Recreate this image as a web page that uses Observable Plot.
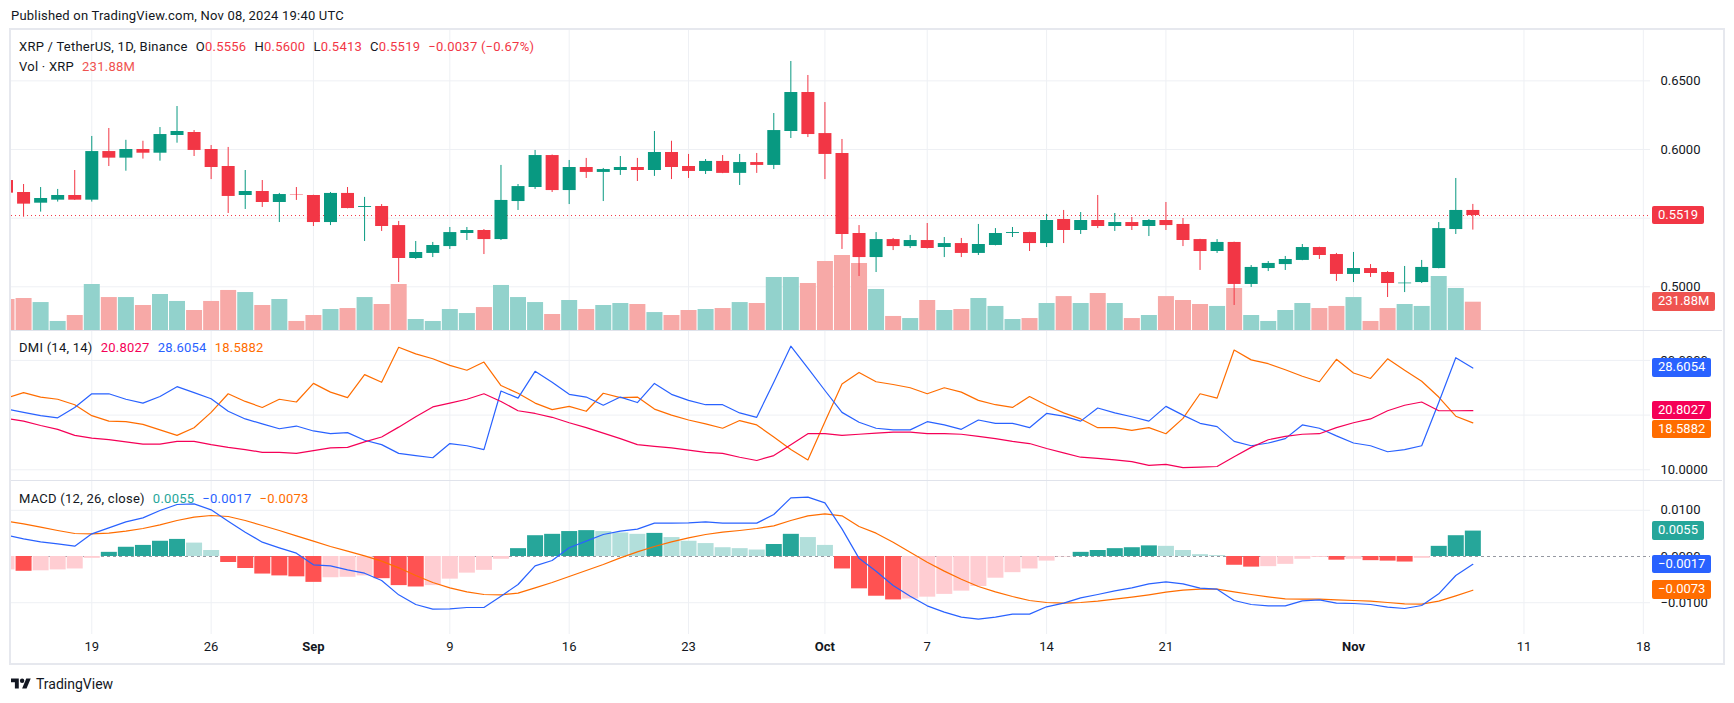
<!DOCTYPE html>
<html><head><meta charset="utf-8">
<script src="https://cdn.jsdelivr.net/npm/d3@7"></script>
<script src="https://cdn.jsdelivr.net/npm/@observablehq/plot@0.6"></script>
<style>
body{margin:0;background:#fff;font-family:Roboto,sans-serif;color:#131722;}
#root{position:relative;width:1734px;height:703px;overflow:hidden;background:#fff;}
.lg{position:absolute;font-size:13px;letter-spacing:0.25px;white-space:pre;line-height:16px;color:#131722;}
.lg span{margin-left:8px;}
.lg span.n{margin-left:0;}
.lbl{position:absolute;color:#fff;font-size:13px;height:18.5px;line-height:18.5px;padding:0 6px;border-radius:2px;white-space:pre;}
</style></head><body><div id="root"></div>
<script>
// ---------- DATA ----------
const startDate = "2024-08-14", endDate = "2024-11-08";
const opens = [0.5774,0.5687,0.5609,0.5631,0.5665,0.5631,0.5985,0.5937,0.6000,0.5973,
0.6102,0.6124,0.6000,0.5876,0.5665,0.5694,0.5614,0.5670,0.5665,0.5468,
0.5680,0.5578,0.5585,0.5446,0.5206,0.5243,0.5293,0.5388,0.5410,0.5344,
0.5621,0.5723,0.5956,0.5701,0.5869,0.5833,0.5847,0.5869,0.5847,0.5978,
0.5876,0.5840,0.5913,0.5826,0.5905,0.5884,0.6131,0.6415,0.6116,0.5971,
0.5388,0.5213,0.5344,0.5293,0.5337,0.5286,0.5315,0.5243,0.5301,0.5388,
0.5395,0.5315,0.5490,0.5410,0.5483,0.5439,0.5468,0.5439,0.5483,0.5454,
0.5344,0.5257,0.5323,0.5017,0.5133,0.5162,0.5192,0.5286,0.5235,0.5090,
0.5133,0.5104,0.5022,0.5031,0.5133,0.5417,0.5556];
const highs = [0.5790,0.5745,0.5723,0.5709,0.5847,0.6095,0.6153,0.6067,0.6060,0.6160,
0.6313,0.6138,0.6029,0.6015,0.5847,0.5774,0.5680,0.5723,0.5667,0.5687,
0.5723,0.5651,0.5599,0.5476,0.5330,0.5323,0.5432,0.5432,0.5417,0.5884,
0.5745,0.5993,0.5960,0.5920,0.5935,0.5862,0.5949,0.5935,0.6131,0.6060,
0.5964,0.5927,0.5956,0.5964,0.5971,0.6262,0.6641,0.6539,0.6342,0.6073,
0.5446,0.5395,0.5352,0.5374,0.5461,0.5359,0.5352,0.5454,0.5424,0.5432,
0.5397,0.5527,0.5556,0.5541,0.5665,0.5534,0.5505,0.5490,0.5614,0.5497,
0.5346,0.5344,0.5325,0.5155,0.5184,0.5221,0.5308,0.5288,0.5243,0.5250,
0.5162,0.5111,0.5148,0.5192,0.5468,0.5789,0.5600];
const lows = [0.5660,0.5507,0.5544,0.5617,0.5629,0.5617,0.5876,0.5842,0.5930,0.5915,
0.6046,0.5949,0.5781,0.5534,0.5563,0.5578,0.5468,0.5629,0.5439,0.5446,
0.5568,0.5330,0.5403,0.5031,0.5199,0.5213,0.5272,0.5337,0.5235,0.5337,
0.5556,0.5709,0.5687,0.5599,0.5789,0.5621,0.5811,0.5767,0.5804,0.5781,
0.5789,0.5818,0.5824,0.5738,0.5826,0.5854,0.6080,0.6087,0.5781,0.5272,
0.5075,0.5104,0.5264,0.5279,0.5275,0.5213,0.5213,0.5228,0.5298,0.5359,
0.5257,0.5286,0.5315,0.5381,0.5424,0.5403,0.5410,0.5366,0.5410,0.5293,
0.5119,0.5243,0.4864,0.4995,0.5111,0.5119,0.5190,0.5199,0.5039,0.5031,
0.5068,0.4922,0.4958,0.5024,0.5131,0.5381,0.5413];
const closes = [0.5682,0.5602,0.5643,0.5665,0.5631,0.5985,0.5937,0.6000,0.5973,0.6109,
0.6131,0.5993,0.5869,0.5658,0.5694,0.5614,0.5672,0.5667,0.5468,0.5680,
0.5570,0.5585,0.5439,0.5206,0.5250,0.5301,0.5395,0.5410,0.5344,0.5629,
0.5730,0.5956,0.5701,0.5869,0.5833,0.5854,0.5869,0.5847,0.5978,0.5869,
0.5840,0.5913,0.5826,0.5905,0.5884,0.6138,0.6415,0.6109,0.5964,0.5381,
0.5213,0.5344,0.5293,0.5337,0.5279,0.5315,0.5243,0.5308,0.5388,0.5395,
0.5315,0.5483,0.5410,0.5483,0.5439,0.5468,0.5439,0.5483,0.5446,0.5337,
0.5257,0.5323,0.5017,0.5141,0.5170,0.5199,0.5286,0.5228,0.5090,0.5133,
0.5097,0.5024,0.5027,0.5141,0.5424,0.5556,0.5519];
const volumesM = [254,262,229,74,123,377,270,270,205,295,
238,164,238,328,311,205,254,74,123,172,
180,270,213,377,90,74,172,139,188,369,
270,229,131,246,172,205,221,213,147,123,
164,172,180,229,221,434,434,385,565,614,
549,336,115,98,246,164,172,262,197,90,
98,221,278,221,303,221,98,123,278,246,
213,197,344,123,74,164,221,180,197,270,
74,180,213,197,442,344,231.88];
const adx = [19.4,18.9,18.1,17.4,16.3,15.8,15.5,15.1,14.7,14.7,
15.2,15.2,14.6,14.1,13.7,13.2,13.2,13.0,13.5,14.0,
14.1,15.1,16.0,17.8,19.7,21.5,22.2,22.9,23.9,22.5,
20.8,20.3,19.6,18.6,17.7,16.7,15.7,14.6,14.3,14.0,
13.6,13.2,13.0,12.3,11.7,12.6,14.6,16.6,16.6,16.3,
16.5,16.7,16.9,16.9,16.6,16.6,16.5,16.1,15.7,15.2,
14.8,13.9,13.1,12.3,12.1,11.8,11.5,10.8,11.0,10.4,
10.5,10.6,12.4,14.1,15.5,16.1,16.5,16.6,17.7,18.6,
19.3,20.8,21.8,22.4,20.8,20.8,20.8027];
const plusDI = [21.1,20.5,19.9,19.5,21.4,23.9,23.9,22.9,22.2,23.4,
25.2,24.1,23.0,20.7,19.3,18.4,17.5,18.0,17.1,16.6,
16.8,15.4,14.6,13.0,12.6,12.2,14.8,14.4,13.7,24.4,
23.1,28.0,26.0,23.8,23.3,21.8,23.3,22.3,25.8,23.8,
22.7,21.9,21.9,20.4,19.6,26.0,32.6,28.6,24.5,20.5,
18.7,17.6,17.3,17.3,18.8,18.2,17.4,19.1,18.5,18.5,
17.7,20.3,19.8,18.9,21.3,20.4,19.7,18.9,21.6,20.0,
18.5,17.9,15.2,14.4,14.9,15.7,18.2,17.6,16.2,14.9,
14.4,13.3,13.7,14.4,22.3,30.5,28.6054];
const minusDI = [23.1,24.1,23.3,22.9,21.9,19.9,18.9,18.8,18.3,17.3,
16.3,17.7,20.5,23.9,22.5,21.4,22.9,22.4,25.8,24.2,
23.2,27.4,26.0,32.4,31.2,30.3,29.1,28.2,29.7,25.4,
24.0,22.2,21.0,21.6,20.7,24.0,23.2,23.3,21.1,20.0,
19.1,18.4,17.6,19.0,18.2,16.0,13.7,11.8,18.8,25.7,
27.8,26.1,25.6,25.0,23.9,25.0,24.2,22.7,21.9,21.4,
23.4,21.8,20.4,19.3,17.7,17.7,17.2,17.7,16.6,19.4,
23.9,23.1,31.9,30.1,29.4,28.3,27.1,26.1,30.2,27.7,
26.7,30.3,28.2,26.2,23.3,19.8,18.5882];
const macdLine = [0.00462,0.00382,0.00317,0.00274,0.00224,0.00491,0.00620,0.00750,0.00837,0.00996,
0.01126,0.01140,0.01010,0.00765,0.00527,0.00310,0.00188,0.00072,-0.00180,-0.00202,
-0.00289,-0.00361,-0.00519,-0.00830,-0.01039,-0.01140,-0.01133,-0.01104,-0.01104,-0.00859,
-0.00606,-0.00202,-0.00087,0.00188,0.00332,0.00476,0.00548,0.00592,0.00722,0.00722,
0.00729,0.00750,0.00722,0.00722,0.00722,0.00909,0.01270,0.01284,0.01162,0.00599,
-0.00040,-0.00320,-0.00628,-0.00859,-0.01068,-0.01205,-0.01313,-0.01356,-0.01313,-0.01248,
-0.01248,-0.01089,-0.01010,-0.00895,-0.00823,-0.00743,-0.00678,-0.00592,-0.00548,-0.00592,
-0.00685,-0.00707,-0.00952,-0.01039,-0.01068,-0.01068,-0.00960,-0.00938,-0.01010,-0.01017,
-0.01039,-0.01097,-0.01126,-0.01061,-0.00808,-0.00411,-0.0017];
const signalLine = [0.00765,0.00707,0.00635,0.00563,0.00498,0.00491,0.00505,0.00548,0.00606,0.00685,
0.00779,0.00851,0.00887,0.00866,0.00779,0.00671,0.00563,0.00447,0.00332,0.00216,
0.00115,0.00014,-0.00101,-0.00245,-0.00411,-0.00563,-0.00678,-0.00765,-0.00823,-0.00830,
-0.00794,-0.00678,-0.00563,-0.00433,-0.00303,-0.00173,-0.00029,0.00101,0.00216,0.00317,
0.00404,0.00476,0.00527,0.00563,0.00606,0.00664,0.00779,0.00880,0.00924,0.00880,
0.00650,0.00505,0.00310,0.00094,-0.00123,-0.00317,-0.00491,-0.00649,-0.00765,-0.00866,
-0.00952,-0.00996,-0.01010,-0.00996,-0.00967,-0.00924,-0.00880,-0.00830,-0.00772,-0.00729,
-0.00707,-0.00707,-0.00765,-0.00823,-0.00873,-0.00916,-0.00924,-0.00924,-0.00938,-0.00952,
-0.00967,-0.00996,-0.01025,-0.01032,-0.00967,-0.00851,-0.0073];
const histogram = [-0.0029,-0.0032,-0.0031,-0.0029,-0.0027,-0.0004,0.0009,0.0020,0.0024,0.0033,
0.0037,0.0029,0.0013,-0.0013,-0.0026,-0.0038,-0.0042,-0.0044,-0.0056,-0.0046,
-0.0045,-0.0042,-0.0048,-0.0063,-0.0066,-0.0063,-0.0049,-0.0036,-0.0030,-0.0006,
0.0017,0.0045,0.0048,0.0054,0.0056,0.0054,0.0051,0.0048,0.0050,0.0041,
0.0033,0.0028,0.0019,0.0017,0.0014,0.0026,0.0048,0.0041,0.0024,-0.0027,
-0.0070,-0.0086,-0.0094,-0.0092,-0.0088,-0.0082,-0.0075,-0.0065,-0.0047,-0.0035,
-0.0027,-0.0010,-0.0001,0.0009,0.0013,0.0017,0.0019,0.0023,0.0022,0.0013,
0.0004,0.0002,-0.0019,-0.0023,-0.0022,-0.0017,-0.0006,-0.0002,-0.0008,-0.0006,
-0.0009,-0.0010,-0.0012,-0.0004,0.0022,0.0045,0.0055];
const priceTicks = [0.50, 0.55, 0.60, 0.65];
const dmiTicks = [10, 20, 30];
const macdTicks = [0.01, 0, -0.01];
const timeTicks = ["2024-08-19","2024-08-26","2024-09-01","2024-09-09","2024-09-16","2024-09-23","2024-10-01","2024-10-07","2024-10-14","2024-10-21","2024-11-01","2024-11-11","2024-11-18"];
const timeTickLabels = ["19","26","Sep","9","16","23","Oct","7","14","21","Nov","11","18"];
const monthLabels = ["Sep","Oct","Nov"];

// ---------- BUILD ----------
const dates = d3.utcDay.range(new Date(startDate), d3.utcDay.offset(new Date(endDate), 1));
const bars = dates.map((date, i) => ({
  date, open: opens[i], high: highs[i], low: lows[i], close: closes[i], volume: volumesM[i],
  adx: adx[i], pdi: plusDI[i], mdi: minusDI[i], macd: macdLine[i], signal: signalLine[i], hist: histogram[i], i
}));
const ticks = timeTicks.map((t, i) => ({date: new Date(t), label: timeTickLabels[i]}));

const UP = "#089981", DOWN = "#f23645";
const gridColor = "#eef0f4";
const candleColor = d => d.close >= d.open ? UP : DOWN;
const volColor = d => d.close >= d.open ? "#92d2cc" : "#f7a9a7";
const histColor = d => {
  const prev = d.i > 0 ? histogram[d.i - 1] : -Infinity;
  if (d.hist >= 0) return d.hist > prev ? "#26a69a" : "#b2dfdb";
  return d.hist > prev ? "#ffcdd2" : "#ff5252";
};

const root = document.getElementById("root");
const W = 1713, ML = 1, MR = 73, LEFT = 10;
const xDomain = [new Date(Date.UTC(2024, 7, 14, 7, 0)), new Date(Date.UTC(2024, 10, 18, 10, 5))];
const pStyle = {background: "transparent", fontFamily: "Roboto, sans-serif", fontSize: "13px", color: "#131722", overflow: "visible"};

function mk(opts) {
  return Plot.plot(Object.assign({
    width: W, marginLeft: ML, marginRight: MR, marginTop: 0, marginBottom: 0,
    x: {type: "utc", domain: xDomain, axis: null},
    color: {type: "identity"},
    style: pStyle
  }, opts));
}
function place(el, left, top) {
  el.style.position = "absolute"; el.style.left = left + "px"; el.style.top = top + "px";
  el.style.maxWidth = "none";
  root.appendChild(el); return el;
}
function axisText(values, fmt) {
  return Plot.text(values, {y: d => d, frameAnchor: "right", textAnchor: "start", dx: 10, text: fmt, fill: "#131722", fontSize: 13, ariaDescription: "yticks"});
}
const fmt4 = d => (d < 0 ? "\u2212" : "") + Math.abs(d).toFixed(4);

// Main pane (top 29, height 301)
const MAIN_TOP = 29, MAIN_H = 301;
const priceY = {domain: [0.46817, 0.68740], axis: null};
const mainGrid = mk({height: MAIN_H, y: priceY, marks: [
  Plot.ruleX(ticks, {x: "date", stroke: gridColor}),
  Plot.ruleY(priceTicks, {stroke: gridColor}),
  axisText(priceTicks, fmt4)
]});
place(mainGrid, LEFT, MAIN_TOP);

const volPlot = mk({height: MAIN_H, y: {domain: [0, 2466], axis: null}, marks: [
  Plot.ruleX(bars, {x: "date", y1: 0, y2: "volume", stroke: volColor, strokeWidth: 16, clip: true})
]});
place(volPlot, LEFT, MAIN_TOP);

const lastClose = closes[closes.length - 1];
const candlePlot = mk({height: MAIN_H, y: priceY, marks: [
  Plot.ruleY([lastClose], {stroke: DOWN, strokeDasharray: "1,3", strokeWidth: 1}),
  Plot.ruleX(bars, {x: "date", y1: "low", y2: "high", stroke: candleColor, strokeWidth: 1, clip: true}),
  Plot.ruleX(bars, {x: "date", y1: "open", y2: "close", stroke: candleColor, strokeWidth: 13, clip: true})
]});
place(candlePlot, LEFT, MAIN_TOP);

// DMI pane (top 330, height 151)
const DMI_TOP = 330, DMI_H = 151;
const dmiPlot = mk({height: DMI_H, y: {domain: [7.86, 35.47], axis: null}, marks: [
  Plot.ruleX(ticks, {x: "date", stroke: gridColor}),
  Plot.ruleY(dmiTicks, {stroke: gridColor}),
  axisText(dmiTicks, d => d.toFixed(4)),
  Plot.line(bars, {x: "date", y: "mdi", stroke: "#ff6d00", strokeWidth: 1.2, clip: true}),
  Plot.line(bars, {x: "date", y: "pdi", stroke: "#2962ff", strokeWidth: 1.2, clip: true}),
  Plot.line(bars, {x: "date", y: "adx", stroke: "#f50057", strokeWidth: 1.2, clip: true})
]});
place(dmiPlot, LEFT, DMI_TOP);

// MACD pane (top 481, frame height 153, +29 time axis)
const MACD_TOP = 481, MACD_H = 182;
const macdPlot = mk({height: MACD_H, marginBottom: 29, y: {domain: [-0.016883, 0.016234], axis: null}, marks: [
  Plot.ruleX(ticks, {x: "date", stroke: gridColor}),
  Plot.ruleY(macdTicks.filter(d => d !== 0), {stroke: gridColor}),
  Plot.ruleY([0], {stroke: "#9598a1", strokeDasharray: "3,3"}),
  axisText(macdTicks, fmt4),
  Plot.ruleX(bars, {x: "date", y1: 0, y2: "hist", stroke: histColor, strokeWidth: 16, clip: true}),
  Plot.line(bars, {x: "date", y: "signal", stroke: "#ff6d00", strokeWidth: 1.2, clip: true}),
  Plot.line(bars, {x: "date", y: "macd", stroke: "#2962ff", strokeWidth: 1.2, clip: true}),
  Plot.text(ticks.filter(t => !monthLabels.includes(t.label)), {x: "date", text: "label", frameAnchor: "bottom", dy: 16, fill: "#131722", fontSize: 13}),
  Plot.text(ticks.filter(t => monthLabels.includes(t.label)), {x: "date", text: "label", frameAnchor: "bottom", dy: 16, fill: "#131722", fontSize: 13, fontWeight: "bold"})
]});
place(macdPlot, LEFT, MACD_TOP);

// Frame & separators
function box(css) { const d = document.createElement("div"); d.style.cssText = "position:absolute;" + css; root.appendChild(d); return d; }
box("left:9px;top:28px;width:1712px;height:633px;border:2px solid #e6e8ee;pointer-events:none;");
box("left:11px;top:330px;width:1711px;height:1px;background:#e0e3eb;");
box("left:11px;top:480px;width:1711px;height:1px;background:#e0e3eb;");

// Axis value labels
function yPos(plot, top, v) {
  const s = plot.scale("y");
  return top + (s.apply ? s.apply(v) : d3.scaleLinear(s.domain, s.range)(v));
}
const placedLabels = [];
function drawLabels(list) {
  const h = 18.5;
  list.sort((a, b) => a.y - b.y);
  for (let i = 1; i < list.length; i++) if (list[i].y - list[i - 1].y < h + 0.5) list[i].y = list[i - 1].y + h + 0.5;
  list.forEach(l => {
    const d = document.createElement("div");
    d.className = "lbl"; d.textContent = l.text; d.style.background = l.bg;
    d.style.left = "1652px"; d.style.top = (l.y - h / 2) + "px";
    root.appendChild(d);
    placedLabels.push(l.y);
  });
}
drawLabels([{y: yPos(candlePlot, MAIN_TOP, lastClose), text: lastClose.toFixed(4), bg: "#f23645"}]);
drawLabels([{y: yPos(volPlot, MAIN_TOP, volumesM[volumesM.length - 1]), text: "231.88M", bg: "#ef5350"}]);
drawLabels([
  {y: yPos(dmiPlot, DMI_TOP, plusDI[plusDI.length - 1]), text: "28.6054", bg: "#2962ff"},
  {y: yPos(dmiPlot, DMI_TOP, adx[adx.length - 1]), text: "20.8027", bg: "#f50057"},
  {y: yPos(dmiPlot, DMI_TOP, minusDI[minusDI.length - 1]), text: "18.5882", bg: "#ff6d00"}
]);
drawLabels([
  {y: yPos(macdPlot, MACD_TOP, histogram[histogram.length - 1]), text: "0.0055", bg: "#26a69a"},
  {y: yPos(macdPlot, MACD_TOP, macdLine[macdLine.length - 1]), text: "\u22120.0017", bg: "#2962ff"},
  {y: yPos(macdPlot, MACD_TOP, signalLine[signalLine.length - 1]), text: "\u22120.0073", bg: "#ff6d00"}
]);
// hide tick labels that a value label fully covers (as the price scale does)
document.querySelectorAll('g[aria-description="yticks"] text').forEach(t => {
  const r = t.getBoundingClientRect();
  const cy = (r.top + r.bottom) / 2;
  if (placedLabels.some(y => Math.abs(y - cy) < 6)) t.style.display = "none";
});

// Texts
function lg(html, left, top, size) {
  const d = document.createElement("div"); d.className = "lg"; d.innerHTML = html;
  d.style.left = left + "px"; d.style.top = top + "px"; if (size) d.style.fontSize = size + "px";
  root.appendChild(d); return d;
}
const R = "#f23645";
const pub = lg("Published on TradingView.com, Nov 08, 2024 19:40 UTC", 11, 8, 13);
pub.style.letterSpacing = "0.2px";
lg(`<span class="n">XRP / TetherUS, 1D, Binance</span><span>O<b style="font-weight:normal;color:${R}">0.5556</b></span><span>H<b style="font-weight:normal;color:${R}">0.5600</b></span><span>L<b style="font-weight:normal;color:${R}">0.5413</b></span><span>C<b style="font-weight:normal;color:${R}">0.5519</b></span><span style="color:${R}">\u22120.0037 (\u22120.67%)</span>`, 19, 39);
lg(`<span class="n">Vol \u00b7 XRP</span><span style="color:#ef5350">231.88M</span>`, 19, 59);
lg(`<span class="n">DMI (14, 14)</span><span style="color:#f50057">20.8027</span><span style="color:#2962ff">28.6054</span><span style="color:#ff6d00">18.5882</span>`, 19, 340);
lg(`<span class="n">MACD (12, 26, close)</span><span style="color:#26a69a">0.0055</span><span style="color:#2962ff">\u22120.0017</span><span style="color:#ff6d00">\u22120.0073</span>`, 19, 491);

// Footer logo
const foot = document.createElement("div");
foot.style.cssText = "position:absolute;left:11px;top:676px;display:flex;align-items:center;gap:5px;font-size:14px;color:#131722;";
foot.innerHTML = `<svg width="20" height="16" viewBox="0 0 36 28"><path d="M14 22H7V11H0V4h14v18z" fill="#131722"/><circle cx="20" cy="8" r="4" fill="#131722"/><path d="M28 22h-8l7.5-18h8L28 22z" fill="#131722"/></svg><span>TradingView</span>`;
root.appendChild(foot);
</script></body></html>
